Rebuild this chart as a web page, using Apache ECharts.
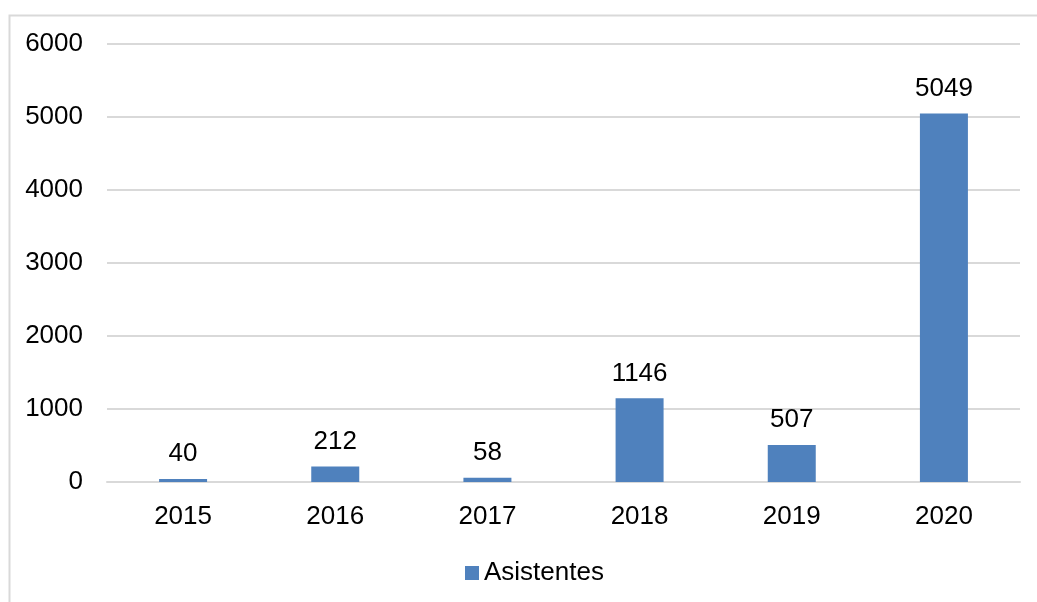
<!DOCTYPE html>
<html>
<head>
<meta charset="utf-8">
<style>
  html, body { margin: 0; padding: 0; background: #ffffff; }
  #chart { width: 1037px; height: 602px; }
</style>
<script src="https://cdn.jsdelivr.net/npm/echarts@6/dist/echarts.min.js"></script>
</head>
<body>
<div id="chart"></div>
<script>
// Attendees per year
const years = ['2015', '2016', '2017', '2018', '2019', '2020'];
const asistentes = [40, 212, 58, 1146, 507, 5049];
const seriesName = 'Asistentes';

const FONT = '"Liberation Sans", Arial, sans-serif';
const BAR_COLOR = '#4f81bd';
const GRID_COLOR = '#d9d9d9';

const chart = echarts.init(document.getElementById('chart'), null, { renderer: 'canvas' });

chart.setOption({
  animation: false,
  backgroundColor: '#ffffff',
  textStyle: { fontFamily: FONT },
  graphic: [{
    type: 'rect',
    silent: true,
    z: -1,
    shape: { x: 9.5, y: 15.5, width: 1200, height: 800 },
    style: { fill: 'none', stroke: GRID_COLOR, lineWidth: 2 }
  }],
  grid: { left: 107, right: 17, top: 44, bottom: 120, containLabel: false },
  legend: {
    data: [seriesName],
    bottom: 11,
    left: 460,
    itemWidth: 14,
    itemHeight: 14,
    itemGap: 4,
    icon: 'rect',
    textStyle: { fontFamily: FONT, fontSize: 26, color: '#000000', padding: [0, 0, 0, 0] }
  },
  xAxis: {
    type: 'category',
    data: years,
    axisLine: { show: true, lineStyle: { color: GRID_COLOR, width: 2 } },
    axisTick: { show: false },
    axisLabel: { fontFamily: FONT, fontSize: 26, color: '#000000', margin: 22 }
  },
  yAxis: {
    type: 'value',
    min: 0,
    max: 6000,
    interval: 1000,
    axisLine: { show: false },
    axisTick: { show: false },
    axisLabel: {
      fontFamily: FONT,
      fontSize: 26,
      color: '#000000',
      margin: 24,
      formatter: (v) => String(v)
    },
    splitLine: { lineStyle: { color: GRID_COLOR, width: 2 } }
  },
  series: [{
    name: seriesName,
    type: 'bar',
    data: asistentes,
    barWidth: 48,
    itemStyle: { color: BAR_COLOR },
    label: {
      show: true,
      position: 'top',
      distance: 12,
      fontFamily: FONT,
      fontSize: 26,
      color: '#000000'
    }
  }]
});
</script>
</body>
</html>
